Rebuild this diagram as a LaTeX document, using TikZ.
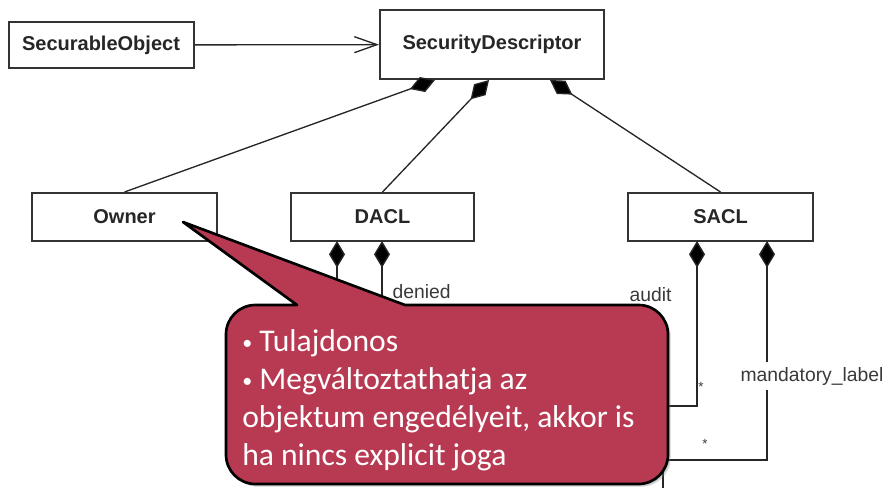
\documentclass[tikz,border=0pt]{standalone}
\usepackage{fontspec}
\setmainfont{Carlito}
\newfontfamily\arial{Liberation Sans}
\usetikzlibrary{arrows.meta,shadows}

\definecolor{boxline}{HTML}{333333}
\definecolor{labelgray}{HTML}{3A3A3A}
\definecolor{notefill}{HTML}{B83A52}

\newcommand{\notebullet}{{\fontsize{15}{15}\selectfont\raisebox{1.5pt}{•}}\ }

\tikzset{
  umlbox/.style={draw=boxline, line width=1.5pt, fill=white, inner sep=0pt,
    font=\arial\bfseries\fontsize{15}{18}\selectfont, text=black!85},
  link/.style={draw=black!85, line width=1pt},
  comp/.style={link, {Diamond[length=20pt,width=12pt,fill=black]}-},
  roleText/.style={font=\arial\fontsize{14.5}{17}\selectfont, text=labelgray, inner sep=1pt},
  multText/.style={font=\arial\fontsize{10}{12}\selectfont, text=labelgray, inner sep=0pt},
  note/.style={fill=notefill, draw=black, line width=2pt, line join=round,
    drop shadow={opacity=0.35, shadow xshift=2pt, shadow yshift=-2pt}},
}

\begin{document}
\begin{tikzpicture}[x=0.75pt, y=-0.75pt]
\useasboundingbox (0,0) rectangle (889,487);

% classes
\node[umlbox, minimum width=138.75pt, minimum height=35pt] (so) at (101,45) {SecurableObject};
\node[umlbox, minimum width=168pt, minimum height=51.75pt] (sd) at (492,44.5) {SecurityDescriptor};
\node[umlbox, minimum width=138.75pt, minimum height=36pt] (owner) at (124.5,217) {Owner};
\node[umlbox, minimum width=137.25pt, minimum height=36pt] (dacl) at (382.5,217) {DACL};
\node[umlbox, minimum width=138.75pt, minimum height=36pt] (sacl) at (720.5,217) {SACL};

% association
\draw[link, -{Straight Barb[length=17pt,width=12pt,line width=1pt]}] (so) -- (sd);

% composition points on the descriptor
\coordinate (sdA) at (435,80);
\coordinate (sdB) at (489,80);
\coordinate (sdC) at (550,80);
\draw[comp] (sdA) -- (owner.north);
\draw[comp] (sdB) -- (dacl.north);
\draw[comp] (sdC) -- (sacl.north);

% DACL parts
\coordinate (daclA) at (337,241);
\coordinate (daclB) at (382,241);
\coordinate (daclAend) at (337,340);
\coordinate (daclBend) at (382,340);
\draw[comp] (daclA) -- (daclAend);
\draw[comp] (daclB) -- (daclBend);
\node[roleText, anchor=base west] (denied) at (391,298) {denied};

% SACL parts
\coordinate (saclA) at (697,241);
\coordinate (saclB) at (767,241);
\coordinate (saclAend) at (620,406);
\coordinate (saclBend) at (663,495);
\draw[comp] (saclA) |- (saclAend);
\draw[comp] (saclB) -- (767,460) -| (saclBend);
\node[roleText, anchor=base west] (audit) at (628,301) {audit};
\node[roleText, fill=white, inner ysep=4pt, anchor=base] (mand) at (812,381) {mandatory\_label};
\node[multText] (multA) at (701,387) {*};
\node[multText] (multB) at (705,444) {*};

% callout note
\path[note] (297,305) -- (183,222) -- (405,305)
  [rounded corners=22pt] -- (668,305) -- (668,484) -- (226,484) -- (226,305)
  [sharp corners] -- cycle;
\node[anchor=north west, inner sep=0pt, text=white, text width=330pt, align=left,
  font=\fontsize{23.7}{28.5}\selectfont] (noteText) at (242,329)
  {\spaceskip=0.226em\relax
   \notebullet Tulajdonos\\
   \notebullet Megváltoztathatja az\\
   objektum engedélyeit, akkor is\\
   ha nincs explicit joga};
\end{tikzpicture}
\end{document}
